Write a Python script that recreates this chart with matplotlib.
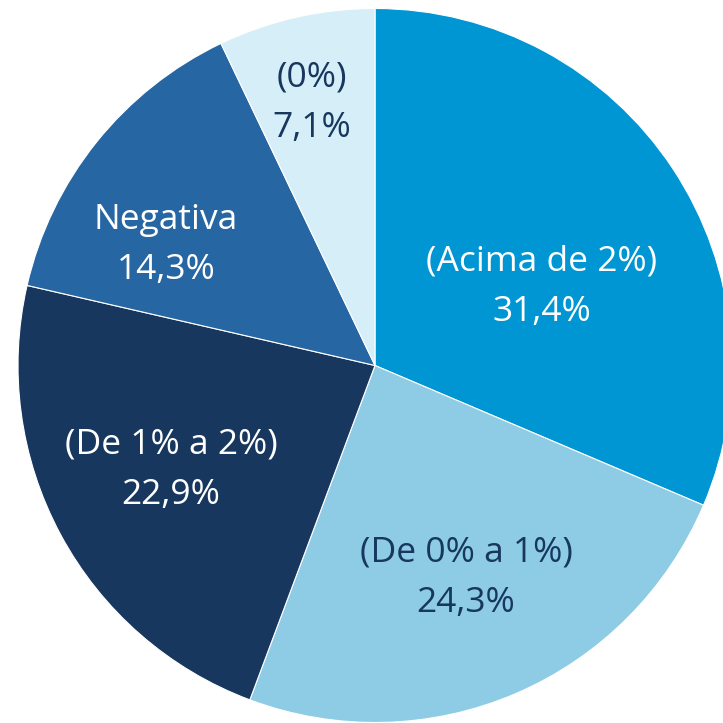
import matplotlib
matplotlib.use("Agg")
import matplotlib.pyplot as plt

categories = ["(Acima de 2%)", "(De 0% a 1%)", "(De 1% a 2%)", "Negativa", "(0%)"]
values = [31.4, 24.3, 22.9, 14.3, 7.1]
value_labels = ["31,4%", "24,3%", "22,9%", "14,3%", "7,1%"]
colors = ["#0095D3", "#8ECBE4", "#17375E", "#2566A3", "#D6EEF7"]
text_colors = ["white", "#17375E", "white", "white", "#17375E"]

# label centers in pixel coords (x, y from top)
label_pos = [(542, 287), (466, 578), (171, 470), (166, 245), (312, 103)]

W = 723
fig = plt.figure(figsize=(7.23, 7.23), dpi=100)
ax = fig.add_axes([0, 0, 1, 1])

cx, cy, r = 375, W - 365.5, 357
ax.pie(values, colors=colors, startangle=90, counterclock=False,
       center=(cx, cy), radius=r, frame=True,
       wedgeprops=dict(linewidth=0.8, edgecolor="white"))
ax.set_xlim(0, W)
ax.set_ylim(0, W)
ax.set_aspect("equal")
ax.axis("off")

for cat, lab, (x, y), tc in zip(categories, value_labels, label_pos, text_colors):
    ax.text(x, W - y, cat + "\n" + lab, ha="center", va="center",
            fontsize=25.5, color=tc, family="Open Sans", linespacing=1.65)

fig.savefig("out.png", dpi=100)
